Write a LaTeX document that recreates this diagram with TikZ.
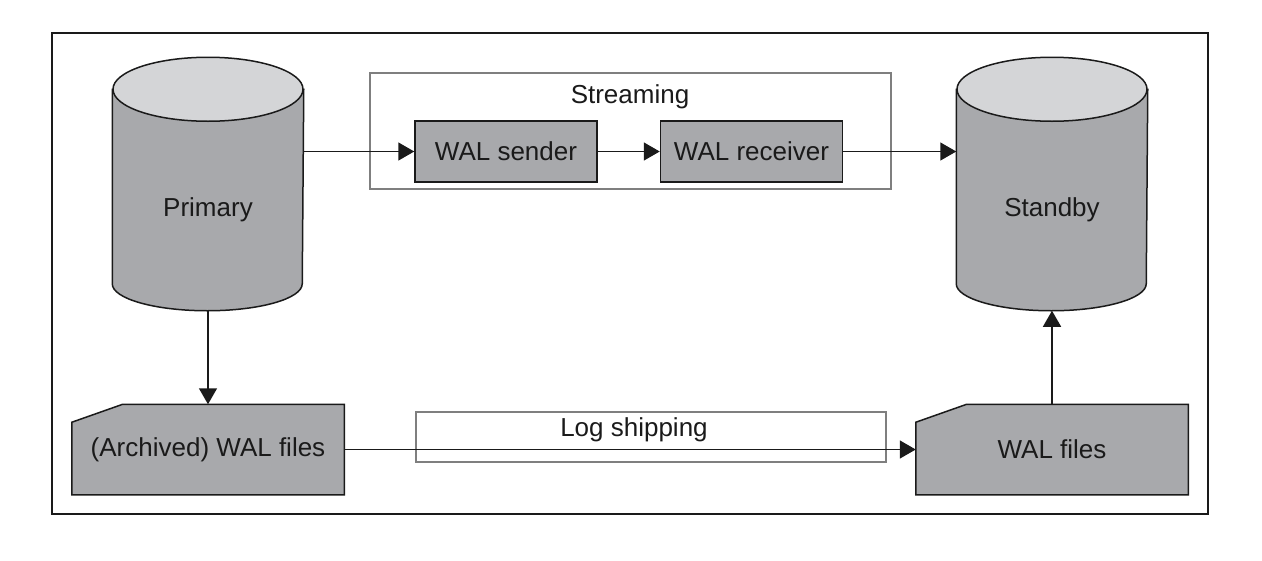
\documentclass[tikz,border=0pt]{standalone}
\usepackage{fontspec}
\setmainfont{Liberation Sans}
\usetikzlibrary{arrows.meta,backgrounds}
\definecolor{dbgray}{HTML}{A8A9AC}
\definecolor{dbtop}{HTML}{D4D5D7}
\definecolor{boxline}{HTML}{7F7F7F}
\definecolor{ink}{HTML}{1A1A1A}

\begin{document}
\begin{tikzpicture}[x=1pt,y=-1pt,font=\fontsize{26}{30}\selectfont,line width=1.5pt,color=ink]
		\tikzstyle{db}     = [rectangle,minimum width=190pt,minimum height=252pt,inner sep=0pt]
		\tikzstyle{dbtext} = [yshift=-26pt]
		\tikzstyle{proc}   = [rectangle,draw=ink,fill=dbgray,minimum width=182pt,minimum height=61pt]
		\tikzstyle{files}  = [rectangle,minimum width=271pt,minimum height=89pt,inner sep=0pt]
		\tikzstyle{group}  = [rectangle,draw=boxline,line width=1.3pt]
		\tikzstyle{solid}  = [draw=ink,line width=1.5pt]
		\tikzstyle{flow}   = [draw=ink,line width=1.5pt,-{Triangle[length=16pt,width=18pt]}]
		
		\useasboundingbox (0,0) rectangle (1262,560);
		\draw[solid] (52,33) rectangle (1208,514);
		
		\node[group,minimum width=521pt,minimum height=116pt] (stream) at (630.5,131) {};
		\node (streamlabel) at (630,97) {Streaming};
		\node[group,minimum width=470pt,minimum height=50pt] (ship) at (651,437) {};
		\node (shiplabel) at (634,430) {Log shipping};
		
		\node[db,label={[dbtext]center:Primary}] (primary) at (208,184) {};
		\node[db,label={[dbtext]center:Standby}] (standby) at (1052,184) {};
		\node[proc] (sender)   at (506,151.5)   {WAL sender};
		\node[proc] (receiver) at (751.5,151.5) {WAL receiver};
		\node[files] (archived) at (208,449.5)  {(Archived) WAL files};
		\node[files] (walfiles) at (1052,449.5) {WAL files};
		
		% shapes behind the nodes
		\begin{pgfonlayer}{background}
			\foreach \db in {primary,standby}{
				\filldraw[solid,fill=dbgray] ([yshift=-32pt]\db.north west) -- ([yshift=27pt]\db.south west)
					arc[start angle=180,end angle=360,x radius=95pt,y radius=27pt]
					-- ([yshift=-32pt]\db.north east) -- cycle;
				\filldraw[solid,fill=dbtop] ([yshift=-32pt]\db.north) ellipse[x radius=95pt,y radius=32pt];
			}
			\foreach \f in {archived,walfiles}{
				\filldraw[solid,fill=dbgray] ([yshift=-18pt]\f.north west) -- ([xshift=51pt]\f.north west)
					-- (\f.north east) -- (\f.south east) -- (\f.south west) -- cycle;
			}
		\end{pgfonlayer}
		
		\path (primary.east |- sender.west) edge[flow] (sender.west);
		\path (sender) edge[flow] (receiver);
		\path (receiver) edge[flow] (standby.west |- receiver.east);
		\path (primary.south) edge[flow] (archived.north);
		\path (archived) edge[flow] (walfiles);
		\path (walfiles.north) edge[flow] (standby.south);
	\end{tikzpicture}
\end{document}
